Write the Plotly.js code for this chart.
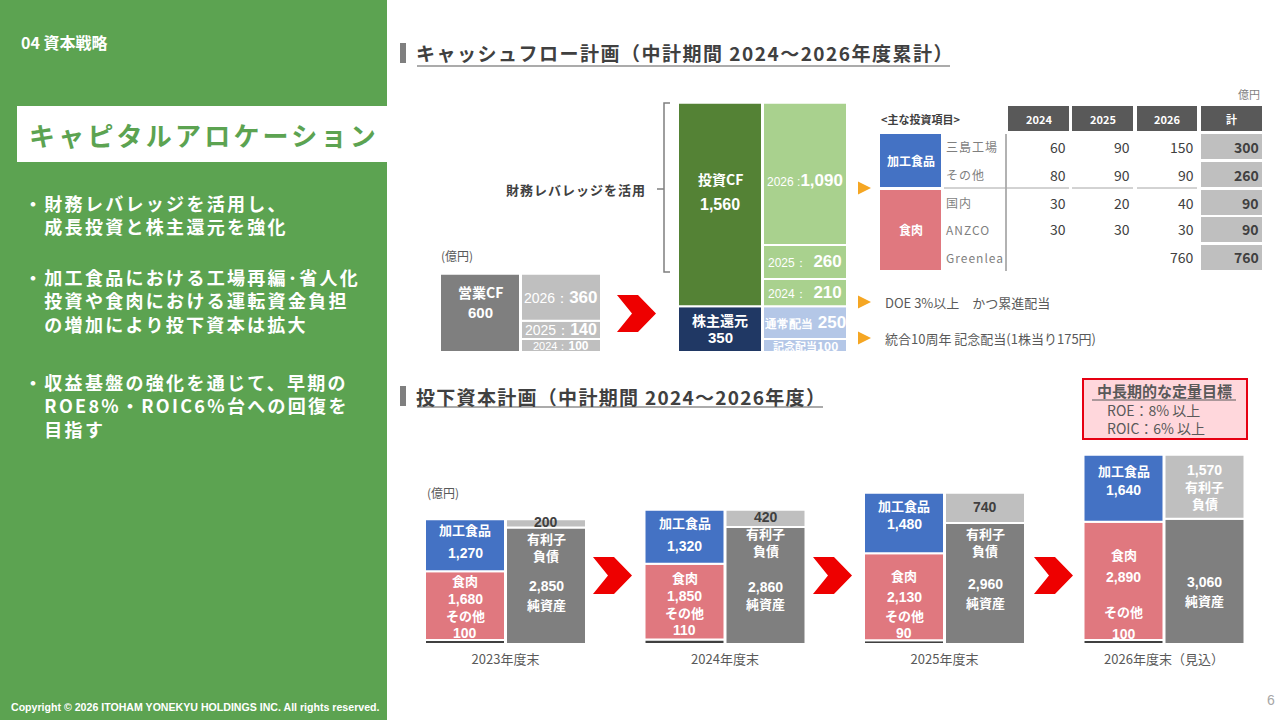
<!DOCTYPE html>
<html><head><meta charset="utf-8">
<script src="https://cdn.plot.ly/plotly-3.0.1.min.js"></script>
<style>html,body{margin:0;padding:0;background:#fff;overflow:hidden}#chart{width:1280px;height:720px}</style>
</head><body><div id="chart"></div>
<script>
// ---------- data: invested capital plan (bottom) ----------
const years = ['2023年度末','2024年度末','2025年度末','2026年度末（見込）'];
const processedFoods = [1270,1320,1480,1640];
const meat = [1680,1850,2130,2890];
const otherSeg = [100,110,90,100];
const interestDebt = [200,420,740,1570];
const netAssets = [2850,2860,2960,3060];

// ---------- data: cash flow plan (top) ----------
const cfCats = ['営業CF','投資CF・株主還元'];
const opCF = 600;
const cfYears = ['2024','2025','2026'];
const opCFByYear = [100,140,360];
const invCF = 1560;
const invCFByYear = [210,260,1090];
const shareholderReturn = 350;
const regularDividend = 250;
const commemorativeDividend = 100;

// ---------- data: main investment items table ----------
const tableYears = ['2024','2025','2026'];
const tableItems = ['三島工場','その他','国内','ANZCO','Greenlea'];
const tableSegments = ['加工食品','食肉'];
const inv2024 = [60,80,30,30,null];
const inv2025 = [90,90,20,30,null];
const inv2026 = [150,90,40,30,760];
const invTotal = [300,260,90,90,760];

// ---------- helpers ----------
const W=1280,H=720;
const FJ='"Noto Sans CJK JP","Noto Sans",sans-serif';
const FA='"Liberation Sans",Arial,sans-serif';
const X=p=>p/W, Y=p=>1-p/H;
const shapes=[], ann=[], traces=[];
function rect(x0,y0,x1,y1,fill,ln,layer){shapes.push({type:'rect',xref:'paper',yref:'paper',x0:X(x0),x1:X(x1),y0:Y(y1),y1:Y(y0),fillcolor:fill,line:ln||{width:0},layer:layer||'below'});}
function path(pts,fill,ln,close){let d=pts.map((p,i)=>(i?'L':'M')+X(p[0]).toFixed(5)+','+Y(p[1]).toFixed(5)).join(' ')+(close===false?'':' Z');shapes.push({type:'path',xref:'paper',yref:'paper',path:d,fillcolor:fill||'rgba(0,0,0,0)',line:ln||{width:0}});}
function line(x0,y0,x1,y1,color,w){shapes.push({type:'line',xref:'paper',yref:'paper',x0:X(x0),x1:X(x1),y0:Y(y0),y1:Y(y1),line:{color:color,width:w||1}});}
function txt(text,x,y,o){o=o||{};ann.push({text:text,x:X(x),y:Y(y),xref:'paper',yref:'paper',showarrow:false,xanchor:o.xa||'left',yanchor:'middle',align:o.al||'left',borderpad:0,font:{family:o.f||FJ,size:o.s||13,color:o.c||'#404040'}});}
function dl(xa,ya,xi,xshift,yval,dy,text,size,color,fam){ann.push({xref:xa,yref:ya,x:xi,y:yval,xshift:xshift,yshift:-dy,text:text,showarrow:false,xanchor:'center',yanchor:'middle',borderpad:0,font:{family:fam||FJ,size:size||13,color:color||'#ffffff'}});}
function bar(xa,ya,xs,ys,bases,offset,width,color){traces.push({type:'bar',x:xs,y:ys,base:bases,offset:offset,width:width,xaxis:xa,yaxis:ya,marker:{color:color,line:{color:'#ffffff',width:2}},hoverinfo:'skip',showlegend:false});}
function chevron(x0,y0,c){path([[x0,y0],[x0+21,y0],[x0+39,y0+18.5],[x0+21,y0+37],[x0,y0+37],[x0+15,y0+18.5]],c||'#ee0000');}
function tri(x,y){path([[x,y-6.5],[x+13,y],[x,y+6.5]],'#f5a623');}

// ---------- left panel ----------
rect(0,0,387,720,'#5ca351');
rect(17,106,387,162,'#ffffff');
txt('<b>04 資本戦略</b>',20,42,{s:16,c:'#ffffff'});
txt('<b><span style="letter-spacing:3.2px">キャピタルアロケーション</span></b>',28,134,{s:26,c:'#5ca351'});
const para=(lines,y)=>txt(lines.map(t=>'<b><span style="letter-spacing:2.3px">'+t+'</span></b>').join('<br>'),23,y,{s:18,c:'#ffffff'});
para(['・財務レバレッジを活用し、','　成長投資と株主還元を強化'],214.5);
para(['・加工食品における工場再編･省人化','　投資や食肉における運転資金負担','　の増加により投下資本は拡大'],300.5);
para(['・収益基盤の強化を通じて、早期の','　ROE8%・ROIC6%台への回復を','　目指す'],405.5);
txt('<b>Copyright © 2026 ITOHAM YONEKYU HOLDINGS INC. All rights reserved.</b>',10,707,{s:10.6,c:'#ffffff',f:FA});
txt('6',1266,700,{s:14,c:'#a6a6a6',f:FA});

// ---------- section titles ----------
rect(400,43,406,63,'#7f7f7f');
txt('<b><span style="letter-spacing:1.5px">キャッシュフロー計画（中計期間 2024～2026年度累計）</span></b>',415,53,{s:19,c:'#404040'});
line(417,66,950,66,'#595959',1.2);
rect(400,386,406,406,'#7f7f7f');
txt('<b><span style="letter-spacing:1.3px">投下資本計画（中計期間 2024～2026年度）</span></b>',415,396,{s:19,c:'#404040'});
line(417,407,823,407,'#595959',1.2);

// ---------- top: cash flow bars ----------
const gw=[80,84];           // column widths (px) per group
const cu=242;               // px per category unit on x2
const lOff=gw.map(w=>-(0.5+w)/cu), rOff=0.5/cu, wd=gw.map(w=>w/cu);
bar('x2','y2',[cfCats[0]],[opCF],[0],lOff[0],wd[0],'#7f7f7f');
bar('x2','y2',[cfCats[1]],[shareholderReturn],[0],lOff[1],wd[1],'#203864');
bar('x2','y2',[cfCats[1]],[invCF],[shareholderReturn],lOff[1],wd[1],'#548235');
let b=0;
const opBase=[];
opCFByYear.forEach((v,i)=>{opBase.push(b);bar('x2','y2',[cfCats[0]],[v],[b],rOff,wd[0],'#bfbfbf');b+=v;});
bar('x2','y2',[cfCats[1]],[commemorativeDividend],[0],rOff,wd[1],'#b4c7e7');
bar('x2','y2',[cfCats[1]],[regularDividend],[commemorativeDividend],rOff,wd[1],'#b4c7e7');
b=commemorativeDividend+regularDividend;
const invBase=[];
invCFByYear.forEach((v,i)=>{invBase.push(b);bar('x2','y2',[cfCats[1]],[v],[b],rOff,wd[1],'#a9d18e');b+=v;});

// top labels
const xL0=-(0.5+gw[0]/2), xR0=0.5+gw[0]/2, xL1=-(0.5+gw[1]/2), xR1=0.5+gw[1]/2;
dl('x2','y2',0,xL0,opCF/2,-21,'<b>営業CF</b>',14);
dl('x2','y2',0,xL0,opCF/2,0,'<b>600</b>',15,'#fff',FA);
const yrLbl=(y,v,s1)=>'<span style="font-size:'+s1+'px">'+y+'：</span><b>'+v+'</b>';
opCFByYear.forEach((v,i)=>{
  const s = v<120?[11,12]:(v<200?[14,16]:[14,17]);
  dl('x2','y2',0,xR0,opBase[i]+v/2,(i===0?1:0),yrLbl(cfYears[i],v,s[0]),s[1],'#fff',FA);
});
dl('x2','y2',1,xL1,shareholderReturn/2,-9,'<b>株主還元</b>',14);
dl('x2','y2',1,xL1,shareholderReturn/2,8,'<b>'+shareholderReturn+'</b>',15,'#fff',FA);
dl('x2','y2',1,xL1,shareholderReturn+invCF/2,-26,'<b>投資CF</b>',14);
dl('x2','y2',1,xL1,shareholderReturn+invCF/2,0,'<b>'+invCF.toLocaleString('en-US')+'</b>',16,'#fff',FA);
dl('x2','y2',1,xR1,commemorativeDividend/2,0,'<b><span style="font-size:11px">記念配当</span>'+commemorativeDividend+'</b>',12,'#fff');
dl('x2','y2',1,xR1,commemorativeDividend+regularDividend/2,0,'<b><span style="font-size:12px">通常配当</span> '+regularDividend+'</b>',17,'#fff',FA);
invCFByYear.forEach((v,i)=>{
  dl('x2','y2',1,xR1,invBase[i]+v/2,(i===2?7:0),'<span style="font-size:12px">'+cfYears[i]+(i===2?' :':'：  ')+'</span><b>'+v.toLocaleString('en-US')+'</b>',17,'#fff',FA);
});

// top decorations
txt('(億円)',440,255,{s:12,c:'#595959'});
txt('<b><span style="letter-spacing:1px">財務レバレッジを活用</span></b>',647,190,{s:13,c:'#404040',xa:'right'});
path([[670,103],[664,103],[664,272],[670,272]],null,{color:'#7f7f7f',width:1.5},false);
line(657,189,664,189,'#7f7f7f',1.5);
chevron(617,295);
tri(858,188); tri(858,302); tri(858,338);
txt('DOE 3%以上　かつ累進配当',884,302,{s:13,c:'#595959'});
txt('統合10周年 記念配当(1株当り175円)',884,338,{s:13,c:'#595959'});

// ---------- table ----------
txt('億円',1261,94,{s:11,c:'#7f7f7f',xa:'right'});
txt('<b>&lt;主な投資項目&gt;</b>',880,119,{s:11,c:'#404040'});
const colX=[[1008,1069],[1072,1133],[1137,1197],[1201,1262]];
[...tableYears,'計'].forEach((h,i)=>{rect(colX[i][0],106,colX[i][1],131,'#595959',null,'above');txt('<b>'+h+'</b>',(colX[i][0]+colX[i][1])/2,119,{s:11,c:'#ffffff',xa:'center'});});
const rowTop=[134,162,190,217,245], rowH=25;
rect(880,134,941,187,'#4472c4',null,'above');
rect(880,190,941,270,'#e0787f',null,'above');
txt('<b>'+tableSegments[0]+'</b>',910.5,160.5,{s:12,c:'#ffffff',xa:'center'});
txt('<b>'+tableSegments[1]+'</b>',910.5,230,{s:12,c:'#ffffff',xa:'center'});
const tv=[inv2024,inv2025,inv2026];
tableItems.forEach((it,r)=>{
  const yc=rowTop[r]+rowH/2;
  txt('<span style="letter-spacing:1px">'+it+'</span>',945,yc,{s:12,c:'#7f7f7f'});
  tv.forEach((arr,c)=>{ if(arr[r]!=null) txt(String(arr[r]),colX[c][1]-2,yc,{s:14,c:'#404040',xa:'right'}); });
  rect(1201,rowTop[r],1262,rowTop[r]+rowH,'#bfbfbf',null,'above');
  txt('<b>'+invTotal[r]+'</b>',1260,yc,{s:14,c:'#404040',xa:'right'});
});
line(1006,134,1006,271,'#7f7f7f',1.2);
line(944,188,1069,188,'#a6a6a6',1);line(1072,188,1133,188,'#a6a6a6',1);line(1137,188,1197,188,'#a6a6a6',1);

// ---------- target box ----------
rect(1083,379,1247,439,'#ffd7dc',{color:'#e60012',width:2},'above');
txt('<b>中長期的な定量目標</b>',1164,391,{s:15,c:'#595959',xa:'center'});
line(1092,400,1236,400,'#595959',1.2);
txt('ROE：8% 以上',1106,410,{s:14,c:'#595959'});
txt('ROIC：6% 以上',1106,428,{s:14,c:'#595959'});

// ---------- bottom: invested capital bars ----------
const bu=219.5, bw=80;
const bl0=-(0.5+bw)/bu, br0=0.5/bu, bwu=bw/bu;
const zeros=years.map(()=>0);
const meatBase=otherSeg.slice();
const pfBase=otherSeg.map((v,i)=>v+meat[i]);
bar('x','y',years,otherSeg,zeros,bl0,bwu,'#404040');
bar('x','y',years,meat,meatBase,bl0,bwu,'#e0787f');
bar('x','y',years,processedFoods,pfBase,bl0,bwu,'#4472c4');
bar('x','y',years,netAssets,zeros,br0,bwu,'#7f7f7f');
bar('x','y',years,interestDebt,netAssets,br0,bwu,'#bfbfbf');

const fmt=v=>v.toLocaleString('en-US');
const blueDy=[[-16,8],[-14,9],[-17,1],[-18,2]];
const redDy=[[-25,-7,10,27],[-24,-6,11,28],[-21,0,19,36],[-26,-4,31,53]];
const naDy=[[-47,-30,0,19],[-52,-35,1,18],[-50,-33,1,19],[null,null,1,19]];
years.forEach((yr,i)=>{
  const xl=-(0.5+bw/2), xr=0.5+bw/2;
  const bm=pfBase[i]+processedFoods[i]/2;
  dl('x','y',i,xl,bm,blueDy[i][0],'<b>加工食品</b>',13);
  dl('x','y',i,xl,bm,blueDy[i][1],'<b>'+fmt(processedFoods[i])+'</b>',14,'#fff',FA);
  const rm=meatBase[i]+meat[i]/2;
  dl('x','y',i,xl,rm,redDy[i][0],'<b>食肉</b>',13);
  dl('x','y',i,xl,rm,redDy[i][1],'<b>'+fmt(meat[i])+'</b>',14,'#fff',FA);
  dl('x','y',i,xl,rm,redDy[i][2],'<b>その他</b>',13);
  dl('x','y',i,xl,rm,redDy[i][3],'<b>'+fmt(otherSeg[i])+'</b>',14,'#fff',FA);
  const nm=netAssets[i]/2;
  if(naDy[i][0]!=null){
    dl('x','y',i,xr,nm,naDy[i][0],'<b>有利子</b>',13);
    dl('x','y',i,xr,nm,naDy[i][1],'<b>負債</b>',13);
  }
  dl('x','y',i,xr,nm,naDy[i][2],'<b>'+fmt(netAssets[i])+'</b>',14,'#fff',FA);
  dl('x','y',i,xr,nm,naDy[i][3],'<b>純資産</b>',13);
  const dm=netAssets[i]+interestDebt[i]/2;
  if(i<3){
    dl('x','y',i,xr,dm,-1,'<b>'+fmt(interestDebt[i])+'</b>',14,'#404040',FA);
  } else {
    dl('x','y',i,xr,dm,-17,'<b>'+fmt(interestDebt[i])+'</b>',14,'#fff',FA);
    dl('x','y',i,xr,dm,0,'<b>有利子</b>',13);
    dl('x','y',i,xr,dm,17,'<b>負債</b>',13);
  }
});
txt('(億円)',426,492,{s:12,c:'#595959'});
chevron(593,557); chevron(813,557); chevron(1034,557);

const layout={width:W,height:H,margin:{l:0,r:0,t:0,b:0},paper_bgcolor:'#ffffff',plot_bgcolor:'rgba(0,0,0,0)',
  barmode:'overlay',showlegend:false,dragmode:false,
  xaxis:{domain:[(505.5-bu/2)/W,(1164+bu/2)/W],range:[-0.5,3.5],type:'category',categoryorder:'array',categoryarray:years,anchor:'y',
    showgrid:false,zeroline:false,showline:false,ticks:'',tickfont:{family:FJ,size:13,color:'#595959'},ticklabelstandoff:6,fixedrange:true},
  yaxis:{domain:[1-644/720,1-444/720],range:[0,4890],visible:false,fixedrange:true},
  xaxis2:{domain:[(520.5-cu/2)/W,(762.5+cu/2)/W],range:[-0.5,1.5],type:'category',categoryorder:'array',categoryarray:cfCats,anchor:'y2',visible:false,fixedrange:true},
  yaxis2:{domain:[1-352/720,1-91/720],range:[0,2000],visible:false,fixedrange:true},
  shapes:shapes,annotations:ann};
Plotly.newPlot('chart',traces,layout,{displayModeBar:false,staticPlot:true});
</script></body></html>
